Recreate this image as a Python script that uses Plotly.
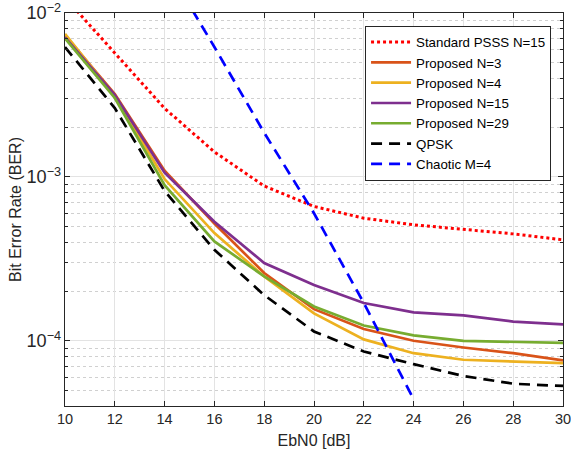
import numpy as np
import plotly.graph_objects as go

# Eb/N0 grid in dB
ebn0 = [10, 12, 14, 16, 18, 20, 22, 24, 26, 28, 30]
ebn0_chaotic = [14, 16, 18, 20, 22, 24]

# BER curves
ber_pssss_n15 = [1.24e-2, 5.7e-3, 2.62e-3, 1.42e-3, 8.8e-4, 6.6e-4, 5.6e-4, 5.1e-4, 4.8e-4, 4.49e-4, 4.13e-4]
ber_prop_n3 = [7.3e-3, 3.2e-3, 1.09e-3, 5.2e-4, 2.59e-4, 1.56e-4, 1.18e-4, 1.0e-4, 9.1e-5, 8.4e-5, 7.6e-5]
ber_prop_n4 = [7.45e-3, 3.1e-3, 9.7e-4, 4.54e-4, 2.47e-4, 1.47e-4, 1.02e-4, 8.4e-5, 7.66e-5, 7.5e-5, 7.3e-5]
ber_prop_n15 = [7.1e-3, 3.16e-3, 1.06e-3, 5.33e-4, 2.98e-4, 2.19e-4, 1.70e-4, 1.49e-4, 1.43e-4, 1.31e-4, 1.26e-4]
ber_prop_n29 = [7.0e-3, 3.03e-3, 8.9e-4, 4.04e-4, 2.47e-4, 1.62e-4, 1.24e-4, 1.08e-4, 1.0e-4, 9.8e-5, 9.7e-5]
ber_qpsk = [6.2e-3, 2.63e-3, 8.2e-4, 3.59e-4, 1.9e-4, 1.14e-4, 8.6e-5, 7.2e-5, 6.1e-5, 5.47e-5, 5.3e-5]
ber_chaotic = [2.0e-2, 6.2e-3, 1.86e-3, 6.0e-4, 1.7e-4, 4.4e-5]

series = [
    ("Standard PSSS N=15", ebn0, ber_pssss_n15, "#FF0000", "dot", 3),
    ("Proposed N=3", ebn0, ber_prop_n3, "#D95319", "solid", 2.7),
    ("Proposed N=4", ebn0, ber_prop_n4, "#EDB120", "solid", 2.7),
    ("Proposed N=15", ebn0, ber_prop_n15, "#7E2F8E", "solid", 2.7),
    ("Proposed N=29", ebn0, ber_prop_n29, "#77AC30", "solid", 2.7),
    ("QPSK", ebn0, ber_qpsk, "#000000", "11px,7px", 2.7),
    ("Chaotic M=4", ebn0_chaotic, ber_chaotic, "#0000FF", "11px,7px", 2.7),
]

fig = go.Figure()
for name, xs, ys, color, dash, width in series:
    fig.add_trace(go.Scatter(
        x=xs, y=ys, mode="lines", name=name,
        line=dict(color=color, dash=dash, width=width),
    ))

axis_color = "#262626"
grid_color = "#E3E3E3"
font_family = "Liberation Sans, Arial, sans-serif"

fig.update_layout(
    width=571, height=458,
    margin=dict(l=65, r=8, t=13, b=52),
    paper_bgcolor="white",
    plot_bgcolor="white",
    font=dict(family=font_family, size=14.5, color=axis_color),
    showlegend=True,
    legend=dict(
        x=0.976, y=0.967, xanchor="right", yanchor="top",
        bgcolor="white", bordercolor=axis_color, borderwidth=1,
        font=dict(size=13.3, color="#000000"),
        tracegroupgap=0, itemwidth=40,
    ),
)

fig.update_xaxes(
    range=[10, 30], dtick=2, tick0=10, automargin=False,
    ticklabeloverflow="allow",
    showline=True, linecolor=axis_color, linewidth=1, mirror="ticks",
    ticks="inside", ticklen=5, tickcolor=axis_color,
    showgrid=True, gridcolor=grid_color, gridwidth=1,
    zeroline=False,
    title=dict(text="EbN0 [dB]", standoff=8, font=dict(size=16)),
)

fig.update_yaxes(
    type="log", automargin=False,
    ticklabeloverflow="allow",
    range=[np.log10(4.0e-5), -2],
    dtick=1, exponentformat="power",
    showline=True, linecolor=axis_color, linewidth=1, mirror="ticks",
    ticks="inside", ticklen=5, tickcolor=axis_color,
    showgrid=True, gridcolor=grid_color, gridwidth=1,
    zeroline=False,
    minor=dict(ticks="inside", ticklen=3, tickcolor=axis_color,
               showgrid=True, gridcolor="#D0D0D0", griddash="dot", gridwidth=1),
    title=dict(text="Bit Error Rate (BER)", standoff=0, font=dict(size=16)),
)

fig.write_html("out.html")
